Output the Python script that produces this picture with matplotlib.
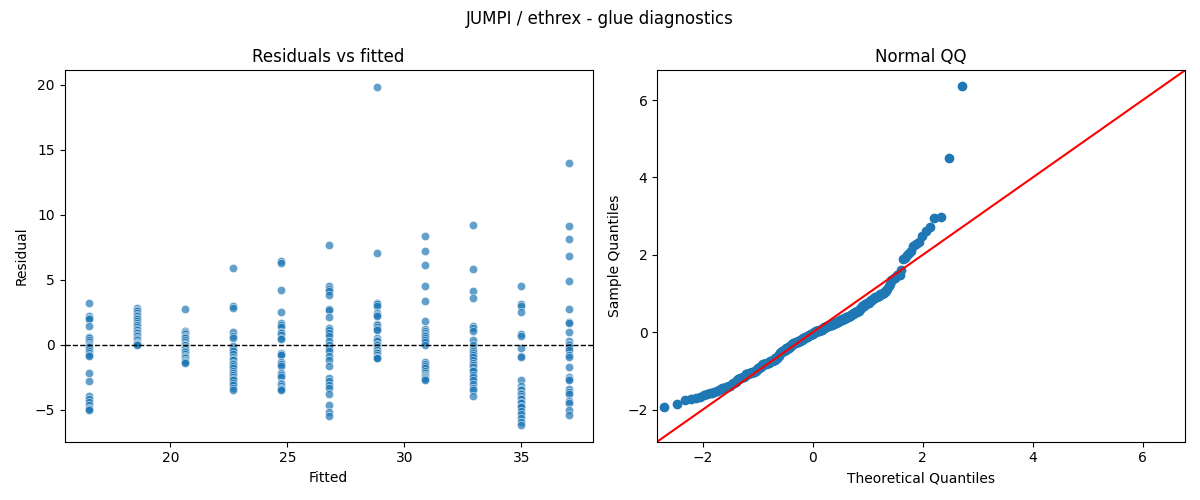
import numpy as np
import matplotlib
matplotlib.use("Agg")
import matplotlib.pyplot as plt
import seaborn as sns
from statistics import NormalDist

fitted_levels = [16.51, 18.56, 20.61, 22.66, 24.72, 26.77, 28.82, 30.87, 32.92, 34.97, 37.02]

res_1 = [3.2, 2.25, 2.1, 2.0, 1.45, 0.6, 0.5, 0.4, 0.2, 0.1, 0.0, -0.1, -0.2, -0.35,
         -0.5, -0.6, -0.75, -0.85, -2.15, -2.8, -3.9, -4.2, -4.4, -4.6, -4.85, -4.9, -5.0]
res_2 = [2.8, 2.7, 2.6, 2.45, 2.3, 2.2, 2.05, 2.0, 1.85, 1.7, 1.55, 1.5, 1.4, 1.2,
         1.15, 1.0, 0.9, 0.75, 0.65, 0.55, 0.45, 0.35, 0.25, 0.15, 0.1, 0.05, 0.0]
res_3 = [2.75, 1.1, 1.05, 1.0, 0.9, 0.85, 0.7, 0.6, 0.5, 0.4, 0.25, 0.1, 0.0, -0.05,
         -0.15, -0.25, -0.35, -0.45, -0.55, -0.7, -0.85, -0.95, -1.05, -1.15, -1.25, -1.35, -1.4]
res_4 = [5.9, 2.95, 2.8, 1.0, 0.65, 0.5, -0.1, -0.3, -0.5, -0.7, -0.9, -1.1, -1.2, -1.4,
         -1.5, -1.6, -1.8, -2.0, -2.2, -2.3, -2.45, -2.6, -2.7, -2.9, -3.1, -3.3, -3.45]
res_5 = [6.45, 6.3, 4.25, 2.5, 1.65, 1.5, 1.4, 1.0, 0.9, 0.75, 0.55, 0.45, -0.6, -0.7,
         -0.8, -1.35, -1.5, -1.6, -2.2, -2.3, -2.45, -2.9, -3.0, -3.2, -3.3, -3.4, -3.45]
res_6 = [7.7, 4.55, 4.3, 4.1, 3.8, 2.75, 2.7, 2.15, 1.3, 1.15, 0.9, 0.7, 0.3, 0.0,
         -0.25, -0.5, -0.85, -1.2, -1.6, -2.55, -2.75, -3.05, -3.3, -3.75, -4.6, -5.15, -5.5]
res_7 = [19.8, 7.05, 3.2, 3.1, 3.0, 2.45, 2.3, 2.2, 1.6, 1.5, 1.4, 1.25, 1.15, 0.5,
         0.4, 0.3, 0.1, 0.0, -0.15, -0.3, -0.4, -0.55, -0.65, -0.8, -0.9, -1.0, -1.05]
res_8 = [8.4, 7.2, 6.15, 4.55, 3.4, 1.85, 1.2, 1.05, 0.9, 0.75, 0.65, 0.5, 0.35, 0.2,
         0.0, -1.35, -1.5, -1.65, -1.8, -2.0, -2.2, -2.3, -2.4, -2.45, -2.55, -2.65, -2.7]
res_9 = [9.2, 5.8, 4.1, 3.6, 1.45, 1.3, 1.1, 0.4, 0.0, -0.3, -0.45, -0.6, -0.8, -0.95,
         -1.2, -1.4, -1.55, -1.7, -1.9, -2.05, -2.35, -2.5, -2.7, -3.0, -3.3, -3.5, -3.9]
res_10 = [4.5, 3.1, 3.0, 2.5, 0.8, 0.65, -0.25, -0.85, -0.95, -2.7, -3.2, -3.4, -3.5, -3.7,
          -3.8, -3.95, -4.1, -4.2, -4.4, -4.5, -4.7, -4.8, -5.1, -5.3, -5.6, -5.9, -6.15]
res_11 = [14.0, 9.1, 8.1, 6.85, 4.9, 2.75, 1.75, 1.65, 1.0, 0.3, 0.1, 0.0, -0.2, -0.4,
          -0.75, -0.95, -1.7, -2.45, -2.6, -2.7, -3.4, -3.6, -3.8, -4.3, -4.5, -5.0, -5.4]

residual_groups = [res_1, res_2, res_3, res_4, res_5, res_6, res_7, res_8, res_9, res_10, res_11]

fitted = np.concatenate([[f] * len(g) for f, g in zip(fitted_levels, residual_groups)])
resid = np.concatenate([np.array(g, dtype=float) for g in residual_groups])

fig, (ax1, ax2) = plt.subplots(1, 2, figsize=(12, 5), dpi=100)

sns.scatterplot(x=fitted, y=resid, ax=ax1, alpha=0.7)
ax1.axhline(0, color="black", linestyle="--", linewidth=1)
ax1.set_xlabel("Fitted")
ax1.set_ylabel("Residual")
ax1.set_title("Residuals vs fitted")

# Normal QQ
n = len(resid)
z = (np.sort(resid) - resid.mean()) / resid.std()
nd = NormalDist()
theo = np.array([nd.inv_cdf(i / (n + 1)) for i in range(1, n + 1)])
ax2.plot(theo, z, "o", color="C0", markersize=6)
lo, hi = -2.83, 6.77
ax2.plot([lo, hi], [lo, hi], color="r")
ax2.set_xlim(lo, hi)
ax2.set_ylim(lo, hi)
ax2.set_xlabel("Theoretical Quantiles")
ax2.set_ylabel("Sample Quantiles")
ax2.set_title("Normal QQ")

fig.suptitle("JUMPI / ethrex - glue diagnostics")
fig.tight_layout()
fig.savefig("out.png")
